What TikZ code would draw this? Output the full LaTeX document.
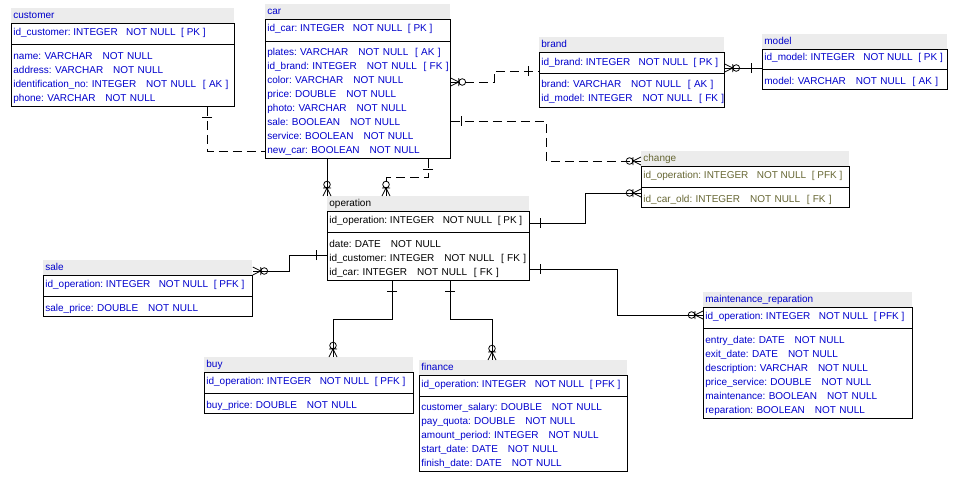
\documentclass[tikz,border=0pt]{standalone}
\usepackage{fontspec}
\setmainfont{Liberation Sans}
\definecolor{erblue}{RGB}{0,0,204}
\definecolor{erolive}{RGB}{102,102,51}
\definecolor{ergray}{RGB}{236,236,236}

\begin{document}
\begin{tikzpicture}
  [x=1pt,y=-1pt,line width=0.8pt,
   every node/.style={inner sep=0pt,font=\fontsize{10}{14}\selectfont\frenchspacing,text=erblue},
   title/.style={fill=ergray,anchor=north west,minimum height=15pt,inner xsep=2pt,align=left,text height=8pt,text depth=2pt},
   box/.style={draw,anchor=north west},
   field/.style={anchor=base west},
   attrs/.style={anchor=base west,align=left,text width=300pt},
   erdash/.style={dash pattern=on 9pt off 5pt},
   tickbar/.pic={\draw[solid] (11,-5) -- (11,5);},
   zeromany/.pic={\draw[solid] (0,-4) -- (8,0) -- (0,4) (8,-4) -- (8,4) (11.5,0) circle[radius=3.3pt];}]
  \useasboundingbox (0,0) rectangle (957,477);

  % customer
  \node[title,text width=219pt] (customer-t) at (11,8) {customer};
  \node[box,minimum width=223pt,minimum height=83pt] (customer) at (11,23) {};
  \draw (11,44) -- (234,44);
  \node[field] (customer-pk) at (13,35.6) {id\_customer: INTEGER\ \ \ NOT NULL\ \ [ PK ]};
  \node[attrs] (customer-a) at (13,59.6) {name: VARCHAR\ \ \ NOT NULL\\address: VARCHAR\ \ \ NOT NULL\\identification\_no: INTEGER\ \ \ NOT NULL\ \ [ AK ]\\phone: VARCHAR\ \ \ NOT NULL};

  % car
  \node[title,text width=181pt] (car-t) at (265,4) {car};
  \node[box,minimum width=185pt,minimum height=139pt] (car) at (265,19) {};
  \draw (265,41) -- (450,41);
  \node[field] (car-pk) at (267,31.6) {id\_car: INTEGER\ \ \ NOT NULL\ \ [ PK ]};
  \node[attrs] (car-a) at (267,55.6) {plates: VARCHAR\ \ \ NOT NULL\ \ [ AK ]\\id\_brand: INTEGER\ \ \ NOT NULL\ \ [ FK ]\\color: VARCHAR\ \ \ NOT NULL\\price: DOUBLE\ \ \ NOT NULL\\photo: VARCHAR\ \ \ NOT NULL\\sale: BOOLEAN\ \ \ NOT NULL\\service: BOOLEAN\ \ \ NOT NULL\\new\_car: BOOLEAN\ \ \ NOT NULL};

  % brand
  \node[title,text width=181pt] (brand-t) at (539,37) {brand};
  \node[box,minimum width=185pt,minimum height=55pt] (brand) at (539,52) {};
  \draw (539,73) -- (724,73);
  \node[field] (brand-pk) at (541,65.6) {id\_brand: INTEGER\ \ \ NOT NULL\ \ [ PK ]};
  \node[attrs] (brand-a) at (541,87.6) {brand: VARCHAR\ \ \ NOT NULL\ \ [ AK ]\\id\_model: INTEGER\ \ \ NOT NULL\ \ [ FK ]};

  % model
  \node[title,text width=181pt] (model-t) at (762,34) {model};
  \node[box,minimum width=185pt,minimum height=40pt] (model) at (762,49) {};
  \draw (762,69) -- (947,69);
  \node[field] (model-pk) at (764,60.6) {id\_model: INTEGER\ \ \ NOT NULL\ \ [ PK ]};
  \node[attrs] (model-a) at (764,84.6) {model: VARCHAR\ \ \ NOT NULL\ \ [ AK ]};

  % change
  \node[title,text width=204pt,text=erolive] (change-t) at (641,151) {change};
  \node[box,minimum width=208pt,minimum height=41pt] (change) at (641,166) {};
  \draw (641,187) -- (849,187);
  \node[field,text=erolive] (change-pk) at (643,178.6) {id\_operation: INTEGER\ \ \ NOT NULL\ \ [ PFK ]};
  \node[attrs,text=erolive] (change-a) at (643,202.6) {id\_car\_old: INTEGER\ \ \ NOT NULL\ \ [ FK ]};

  % operation
  \node[title,text width=198pt,text=black] (operation-t) at (327,196) {operation};
  \node[box,minimum width=202pt,minimum height=69pt] (operation) at (327,211) {};
  \draw (327,232) -- (529,232);
  \node[field,text=black] (operation-pk) at (329,223.6) {id\_operation: INTEGER\ \ \ NOT NULL\ \ [ PK ]};
  \node[attrs,text=black] (operation-a) at (329,247.1) {date: DATE\ \ \ NOT NULL\\id\_customer: INTEGER\ \ \ NOT NULL\ \ [ FK ]\\id\_car: INTEGER\ \ \ NOT NULL\ \ [ FK ]};

  % sale
  \node[title,text width=205pt] (sale-t) at (43,260) {sale};
  \node[box,minimum width=209pt,minimum height=41pt] (sale) at (43,275) {};
  \draw (43,296) -- (252,296);
  \node[field] (sale-pk) at (45,287.6) {id\_operation: INTEGER\ \ \ NOT NULL\ \ [ PFK ]};
  \node[attrs] (sale-a) at (45,311.6) {sale\_price: DOUBLE\ \ \ NOT NULL};

  % buy
  \node[title,text width=205pt] (buy-t) at (204,357) {buy};
  \node[box,minimum width=209pt,minimum height=41pt] (buy) at (204,372) {};
  \draw (204,393) -- (413,393);
  \node[field] (buy-pk) at (206,384.6) {id\_operation: INTEGER\ \ \ NOT NULL\ \ [ PFK ]};
  \node[attrs] (buy-a) at (206,408.6) {buy\_price: DOUBLE\ \ \ NOT NULL};

  % finance
  \node[title,text width=204pt] (finance-t) at (419,360) {finance};
  \node[box,minimum width=208pt,minimum height=96pt] (finance) at (419,375) {};
  \draw (419,396) -- (627,396);
  \node[field] (finance-pk) at (421,387.6) {id\_operation: INTEGER\ \ \ NOT NULL\ \ [ PFK ]};
  \node[attrs] (finance-a) at (421,410.6) {customer\_salary: DOUBLE\ \ \ NOT NULL\\pay\_quota: DOUBLE\ \ \ NOT NULL\\amount\_period: INTEGER\ \ \ NOT NULL\\start\_date: DATE\ \ \ NOT NULL\\finish\_date: DATE\ \ \ NOT NULL};

  % maintenance_reparation
  \node[title,text width=205pt] (maint-t) at (703,292) {maintenance\_reparation};
  \node[box,minimum width=209pt,minimum height=111pt] (maint) at (703,307) {};
  \draw (703,328) -- (912,328);
  \node[field] (maint-pk) at (705,319.6) {id\_operation: INTEGER\ \ \ NOT NULL\ \ [ PFK ]};
  \node[attrs] (maint-a) at (705,343.6) {entry\_date: DATE\ \ \ NOT NULL\\exit\_date: DATE\ \ \ NOT NULL\\description: VARCHAR\ \ \ NOT NULL\\price\_service: DOUBLE\ \ \ NOT NULL\\maintenance: BOOLEAN\ \ \ NOT NULL\\reparation: BOOLEAN\ \ \ NOT NULL};

  % relationships
  \draw[erdash] (customer.south -| 207,0) |- (car.west |- 0,151);
  \pic[rotate=-90] at (customer.south -| 207,0) {tickbar};

  \draw (car.south -| 327,0) -- (operation-t.north -| 327,0);
  \pic[rotate=90] at (operation-t.north -| 327,0) {zeromany};

  \draw[erdash] (car.south -| 428,0) -- ++(0,19) -| (operation-t.north -| 386,0);
  \pic[rotate=-90] at (car.south -| 428,0) {tickbar};
  \pic[rotate=90] at (operation-t.north -| 386,0) {zeromany};

  \draw[erdash] (car.east |- 0,82) -- (494,82) |- (brand.west |- 0,71);
  \pic at (car.east |- 0,82) {zeromany};
  \pic[rotate=180] at (brand.west |- 0,71) {tickbar};

  \draw (brand.east |- 0,68) -- (model.west |- 0,68);
  \pic at (brand.east |- 0,68) {zeromany};
  \pic[rotate=180] at (model.west |- 0,68) {tickbar};

  \draw[erdash] (car.east |- 0,121) -| (546,161) -- (change-t.west |- 0,161);
  \pic at (car.east |- 0,121) {tickbar};
  \pic[rotate=180] at (change-t.west |- 0,161) {zeromany};

  \draw (operation.east |- 0,223) -| (585,193) -- (change.west |- 0,193);
  \pic at (operation.east |- 0,223) {tickbar};
  \pic[rotate=180] at (change.west |- 0,193) {zeromany};

  \draw (operation.east |- 0,269) -| (617,315) -- (maint.west |- 0,315);
  \pic at (operation.east |- 0,269) {tickbar};
  \pic[rotate=180] at (maint.west |- 0,315) {zeromany};

  \draw (operation.west |- 0,255) -| (289,271) -- (sale-t.east |- 0,271);
  \pic[rotate=180] at (operation.west |- 0,255) {tickbar};
  \pic at (sale-t.east |- 0,271) {zeromany};

  \draw (operation.south -| 392,0) |- (333,319) -- (buy-t.north -| 333,0);
  \pic[rotate=-90] at (operation.south -| 392,0) {tickbar};
  \pic[rotate=90] at (buy-t.north -| 333,0) {zeromany};

  \draw (operation.south -| 450,0) |- (492,319) -- (finance-t.north -| 492,0);
  \pic[rotate=-90] at (operation.south -| 450,0) {tickbar};
  \pic[rotate=90] at (finance-t.north -| 492,0) {zeromany};
\end{tikzpicture}
\end{document}
